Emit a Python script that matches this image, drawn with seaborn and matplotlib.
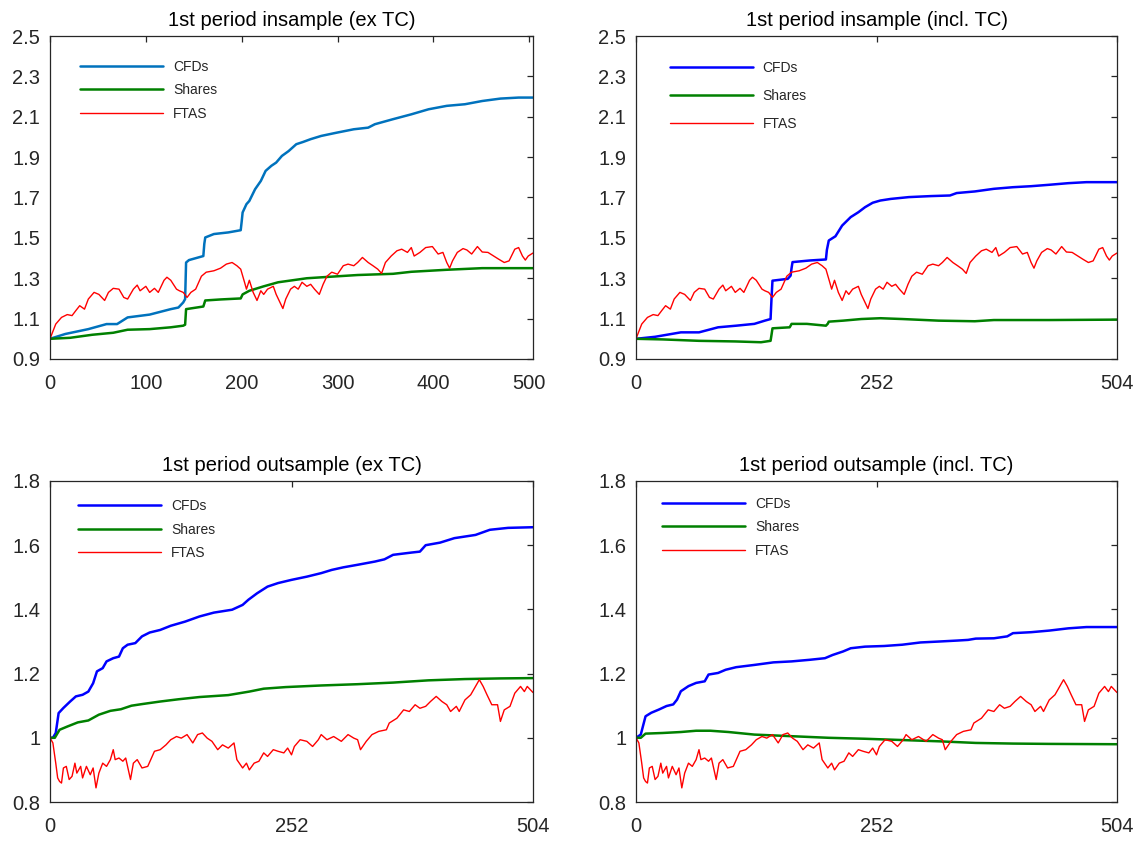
import numpy as np
import pandas as pd
import matplotlib
matplotlib.use("Agg")
import matplotlib.pyplot as plt
import seaborn as sns

# ---- data (trading days vs. cumulative value) ----
# FTAS benchmark, in-sample period (same in both top panels)
ftas_in_x = [0, 6, 12, 18, 23, 27, 31, 36, 40, 46, 51, 57, 61, 66, 72, 77, 81, 87, 91,
             94, 100, 104, 109, 113, 119, 122, 126, 132, 135, 139, 143, 147, 152, 158,
             163, 171, 178, 184, 190, 195, 199, 203, 205, 208, 212, 216, 220, 223, 227,
             233, 236, 240, 243, 246, 251, 255, 259, 263, 268, 272, 276, 281, 285, 289,
             294, 300, 306, 311, 317, 321, 326, 332, 337, 342, 346, 350, 356, 362, 367,
             373, 377, 380, 386, 392, 399, 405, 410, 414, 417, 420, 425, 431, 435, 440,
             446, 451, 457, 463, 468, 474, 479, 485, 489, 493, 496, 499, 504]
ftas_in_y = [1.000, 1.073, 1.106, 1.120, 1.115, 1.140, 1.164, 1.147, 1.197, 1.230, 1.220,
             1.190, 1.230, 1.250, 1.246, 1.205, 1.197, 1.246, 1.266, 1.238, 1.260, 1.230,
             1.250, 1.230, 1.290, 1.305, 1.290, 1.246, 1.238, 1.230, 1.205, 1.230, 1.246,
             1.310, 1.330, 1.337, 1.350, 1.370, 1.378, 1.362, 1.345, 1.280, 1.246, 1.290,
             1.230, 1.190, 1.238, 1.220, 1.246, 1.260, 1.220, 1.180, 1.150, 1.197, 1.246,
             1.260, 1.246, 1.280, 1.260, 1.270, 1.246, 1.220, 1.270, 1.310, 1.330, 1.320,
             1.362, 1.370, 1.362, 1.378, 1.403, 1.378, 1.362, 1.345, 1.324, 1.378, 1.410,
             1.436, 1.444, 1.428, 1.452, 1.410, 1.428, 1.452, 1.457, 1.420, 1.428, 1.378,
             1.350, 1.386, 1.428, 1.447, 1.440, 1.420, 1.457, 1.430, 1.428, 1.410, 1.395,
             1.378, 1.386, 1.444, 1.452, 1.410, 1.390, 1.410, 1.425]

# FTAS benchmark, out-of-sample period (same in both bottom panels)
ftas_out_x = [0, 3, 6, 8, 10, 12, 14, 17, 20, 23, 26, 28, 32, 34, 38, 42, 45, 48, 51, 55,
              59, 63, 66, 68, 72, 76, 79, 84, 87, 91, 96, 102, 109, 115, 121, 126, 132,
              137, 143, 149, 154, 159, 164, 169, 175, 180, 186, 192, 195, 201, 205, 208,
              213, 218, 223, 227, 233, 238, 244, 248, 252, 255, 261, 268, 274, 280, 283,
              289, 296, 304, 311, 317, 321, 324, 330, 336, 343, 351, 354, 362, 369, 375,
              381, 386, 392, 397, 403, 409, 414, 418, 424, 427, 433, 439, 444, 448, 452,
              456, 461, 467, 470, 474, 480, 485, 491, 495, 498, 504]
ftas_out_y = [1.000, 0.984, 0.921, 0.875, 0.864, 0.859, 0.906, 0.911, 0.870, 0.880, 0.921,
              0.890, 0.911, 0.875, 0.911, 0.885, 0.906, 0.844, 0.890, 0.921, 0.911, 0.932,
              0.963, 0.932, 0.937, 0.927, 0.937, 0.870, 0.921, 0.932, 0.906, 0.911, 0.958,
              0.963, 0.978, 0.994, 1.004, 0.999, 1.010, 0.984, 1.010, 1.015, 0.999, 0.989,
              0.963, 0.978, 0.968, 0.984, 0.932, 0.906, 0.921, 0.900, 0.921, 0.927, 0.953,
              0.942, 0.963, 0.958, 0.953, 0.968, 0.947, 0.973, 0.994, 0.989, 0.973, 0.994,
              1.010, 0.994, 1.004, 0.989, 1.010, 0.999, 0.994, 0.963, 0.989, 1.010, 1.020,
              1.025, 1.046, 1.061, 1.087, 1.082, 1.103, 1.092, 1.098, 1.113, 1.129, 1.113,
              1.103, 1.082, 1.098, 1.082, 1.118, 1.134, 1.160, 1.181, 1.160, 1.134, 1.103,
              1.103, 1.051, 1.087, 1.098, 1.139, 1.160, 1.144, 1.160, 1.141]

# CFDs / Shares, 1st period insample (ex TC)
cfd_in_ex_x = [0, 16, 40, 59, 70, 81, 104, 126, 134, 139, 141, 142, 145, 160, 161, 162,
               171, 186, 199, 200, 201, 205, 208, 214, 220, 225, 231, 236, 242, 249, 257,
               264, 272, 283, 298, 317, 332, 339, 358, 377, 395, 414, 433, 451, 470, 489, 504]
cfd_in_ex_y = [1.000, 1.024, 1.048, 1.073, 1.073, 1.106, 1.120, 1.147, 1.155, 1.180, 1.197,
               1.378, 1.390, 1.410, 1.470, 1.502, 1.519, 1.527, 1.538, 1.580, 1.626, 1.667,
               1.683, 1.741, 1.782, 1.832, 1.857, 1.873, 1.906, 1.930, 1.964, 1.975, 1.989,
               2.005, 2.020, 2.038, 2.046, 2.063, 2.088, 2.112, 2.137, 2.154, 2.162, 2.178,
               2.190, 2.195, 2.195]
sh_in_ex_x = [0, 21, 44, 66, 81, 104, 126, 139, 141, 142, 160, 161, 162, 178, 199, 201,
              208, 223, 238, 253, 268, 291, 321, 358, 377, 414, 451, 504]
sh_in_ex_y = [1.000, 1.005, 1.020, 1.030, 1.045, 1.048, 1.057, 1.065, 1.070, 1.147, 1.160,
              1.175, 1.190, 1.195, 1.200, 1.220, 1.238, 1.260, 1.280, 1.290, 1.300, 1.307,
              1.316, 1.322, 1.332, 1.342, 1.350, 1.350]

# CFDs / Shares, 1st period insample (incl. TC)
cfd_in_in_x = [0, 20, 47, 66, 86, 105, 124, 135, 141, 142, 143, 159, 162, 163, 164, 182,
               199, 200, 202, 209, 216, 225, 233, 240, 248, 256, 267, 286, 309, 329, 336,
               355, 375, 395, 414, 433, 453, 472, 504]
cfd_in_in_y = [1.000, 1.010, 1.032, 1.032, 1.057, 1.065, 1.074, 1.090, 1.098, 1.200, 1.288,
               1.297, 1.313, 1.350, 1.380, 1.388, 1.393, 1.440, 1.487, 1.508, 1.561, 1.603,
               1.627, 1.652, 1.674, 1.685, 1.693, 1.702, 1.707, 1.710, 1.722, 1.730, 1.743,
               1.751, 1.756, 1.763, 1.771, 1.776, 1.776]
sh_in_in_x = [0, 28, 66, 104, 131, 141, 142, 143, 161, 162, 163, 179, 199, 201, 202, 217,
              236, 256, 279, 317, 355, 375, 433, 504]
sh_in_in_y = [1.000, 0.997, 0.990, 0.987, 0.983, 0.990, 1.020, 1.052, 1.057, 1.065, 1.074,
              1.074, 1.065, 1.075, 1.085, 1.090, 1.098, 1.102, 1.098, 1.090, 1.087, 1.093,
              1.093, 1.095]

# CFDs / Shares, 1st period outsample (ex TC)
cfd_out_ex_x = [0, 3, 6, 9, 14, 21, 27, 34, 40, 45, 49, 55, 59, 66, 72, 76, 81, 89, 96,
                104, 115, 126, 141, 156, 171, 190, 201, 207, 216, 227, 238, 252, 268, 283,
                294, 306, 321, 339, 349, 358, 377, 386, 392, 407, 422, 444, 459, 478, 504]
cfd_out_ex_y = [1.000, 1.000, 1.015, 1.077, 1.093, 1.113, 1.129, 1.134, 1.144, 1.170, 1.207,
                1.217, 1.238, 1.248, 1.253, 1.279, 1.290, 1.295, 1.316, 1.328, 1.336, 1.349,
                1.362, 1.378, 1.390, 1.399, 1.414, 1.430, 1.450, 1.471, 1.482, 1.492, 1.502,
                1.513, 1.523, 1.531, 1.539, 1.549, 1.556, 1.570, 1.577, 1.580, 1.600, 1.608,
                1.622, 1.632, 1.648, 1.654, 1.656]
sh_out_ex_x = [0, 5, 10, 18, 29, 40, 51, 63, 74, 85, 96, 115, 134, 156, 186, 208, 223, 246,
               283, 321, 358, 395, 433, 470, 504]
sh_out_ex_y = [1.000, 1.000, 1.025, 1.035, 1.048, 1.054, 1.072, 1.084, 1.089, 1.100, 1.105,
               1.113, 1.120, 1.127, 1.133, 1.144, 1.153, 1.158, 1.163, 1.167, 1.172, 1.179,
               1.183, 1.185, 1.186]

# CFDs / Shares, 1st period outsample (incl. TC)
cfd_out_in_x = [0, 5, 10, 16, 24, 32, 39, 43, 47, 55, 63, 72, 76, 86, 94, 105, 124, 144,
                163, 182, 198, 206, 217, 225, 240, 260, 279, 298, 318, 337, 348, 356, 375,
                389, 395, 414, 433, 453, 472, 504]
cfd_out_in_y = [1.000, 1.010, 1.067, 1.078, 1.088, 1.099, 1.104, 1.119, 1.145, 1.161, 1.171,
                1.176, 1.197, 1.202, 1.212, 1.220, 1.227, 1.235, 1.238, 1.243, 1.248, 1.258,
                1.269, 1.279, 1.284, 1.286, 1.290, 1.297, 1.300, 1.303, 1.305, 1.309, 1.310,
                1.316, 1.326, 1.329, 1.334, 1.341, 1.345, 1.345]
sh_out_in_x = [0, 5, 10, 28, 47, 63, 78, 97, 124, 163, 202, 240, 279, 318, 356, 395, 433, 504]
sh_out_in_y = [1.000, 1.000, 1.013, 1.015, 1.018, 1.022, 1.022, 1.018, 1.010, 1.005, 1.000,
               0.997, 0.993, 0.989, 0.984, 0.982, 0.981, 0.980]

titles = ["1st period insample (ex TC)", "1st period insample (incl. TC)",
          "1st period outsample (ex TC)", "1st period outsample (incl. TC)"]
series_names = ["CFDs", "Shares", "FTAS"]

top_yticks = [0.9, 1.1, 1.3, 1.5, 1.7, 1.9, 2.1, 2.3, 2.5]
top_ylabels = ["0.9", "1.1", "1.3", "1.5", "1.7", "1.9", "2.1", "2.3", "2.5"]
bot_yticks = [0.8, 1.0, 1.2, 1.4, 1.6, 1.8]
bot_ylabels = ["0.8", "1", "1.2", "1.4", "1.6", "1.8"]

# ---- style ----
sns.set_style("white")
plt.rcParams['font.family'] = ['Liberation Sans', 'DejaVu Sans']

GREEN = "#008000"
RED = "#FF0000"
BLUE = "#0000FF"
MBLUE = "#0072BD"

fig = plt.figure(figsize=(11.47, 8.41), dpi=100)

# axes boxes in figure fractions [left, bottom, width, height]
boxes = [
    [50 / 1147, 1 - 359 / 841, 483 / 1147, 323 / 841],
    [636 / 1147, 1 - 359 / 841, 481 / 1147, 323 / 841],
    [50 / 1147, 1 - 802 / 841, 483 / 1147, 321 / 841],
    [636 / 1147, 1 - 802 / 841, 481 / 1147, 321 / 841],
]

panels = [
    (cfd_in_ex_x, cfd_in_ex_y, MBLUE, sh_in_ex_x, sh_in_ex_y, ftas_in_x, ftas_in_y),
    (cfd_in_in_x, cfd_in_in_y, BLUE, sh_in_in_x, sh_in_in_y, ftas_in_x, ftas_in_y),
    (cfd_out_ex_x, cfd_out_ex_y, BLUE, sh_out_ex_x, sh_out_ex_y, ftas_out_x, ftas_out_y),
    (cfd_out_in_x, cfd_out_in_y, BLUE, sh_out_in_x, sh_out_in_y, ftas_out_x, ftas_out_y),
]

# legend placement per panel: anchor, label spacing
legend_opts = [
    ((0.062, 0.927), 0.70),
    ((0.070, 0.924), 1.02),
    ((0.058, 0.943), 0.68),
    ((0.054, 0.951), 0.68),
]

for i, (box, panel) in enumerate(zip(boxes, panels)):
    ax = fig.add_axes(box)
    cx, cy, ccol, sx, sy, fx, fy = panel

    sns.lineplot(x=cx, y=cy, ax=ax, color=ccol, lw=1.8, label=series_names[0],
                 estimator=None, errorbar=None)
    sns.lineplot(x=sx, y=sy, ax=ax, color=GREEN, lw=1.8, label=series_names[1],
                 estimator=None, errorbar=None)
    sns.lineplot(x=fx, y=fy, ax=ax, color=RED, lw=1.0, label=series_names[2],
                 estimator=None, errorbar=None)

    ax.set_xlim(0, 504)
    if i == 0:
        ax.set_xticks([0, 100, 200, 300, 400, 500])
    else:
        ax.set_xticks([0, 252, 504])
    if i < 2:
        ax.set_ylim(0.9, 2.5)
        ax.set_yticks(top_yticks)
        ax.set_yticklabels(top_ylabels)
    else:
        ax.set_ylim(0.8, 1.8)
        ax.set_yticks(bot_yticks)
        ax.set_yticklabels(bot_ylabels)

    ax.set_xlabel("")
    ax.set_ylabel("")
    ax.set_title(titles[i], fontsize=14.5, color="black", pad=7)
    ax.tick_params(direction="in", top=True, right=True, length=4, width=0.9,
                   labelsize=14.5, colors="#262626")
    ax.tick_params(axis="x", pad=11)
    ax.tick_params(axis="y", pad=7)
    for sp in ax.spines.values():
        sp.set_visible(True)
        sp.set_color("#262626")
        sp.set_linewidth(0.9)

    anchor, lspace = legend_opts[i]
    ax.legend(loc="upper left", bbox_to_anchor=anchor, frameon=False, fontsize=10,
              handlelength=6.0, handletextpad=0.7, labelspacing=lspace,
              borderpad=0, borderaxespad=0)

fig.savefig("out.png", dpi=100)
